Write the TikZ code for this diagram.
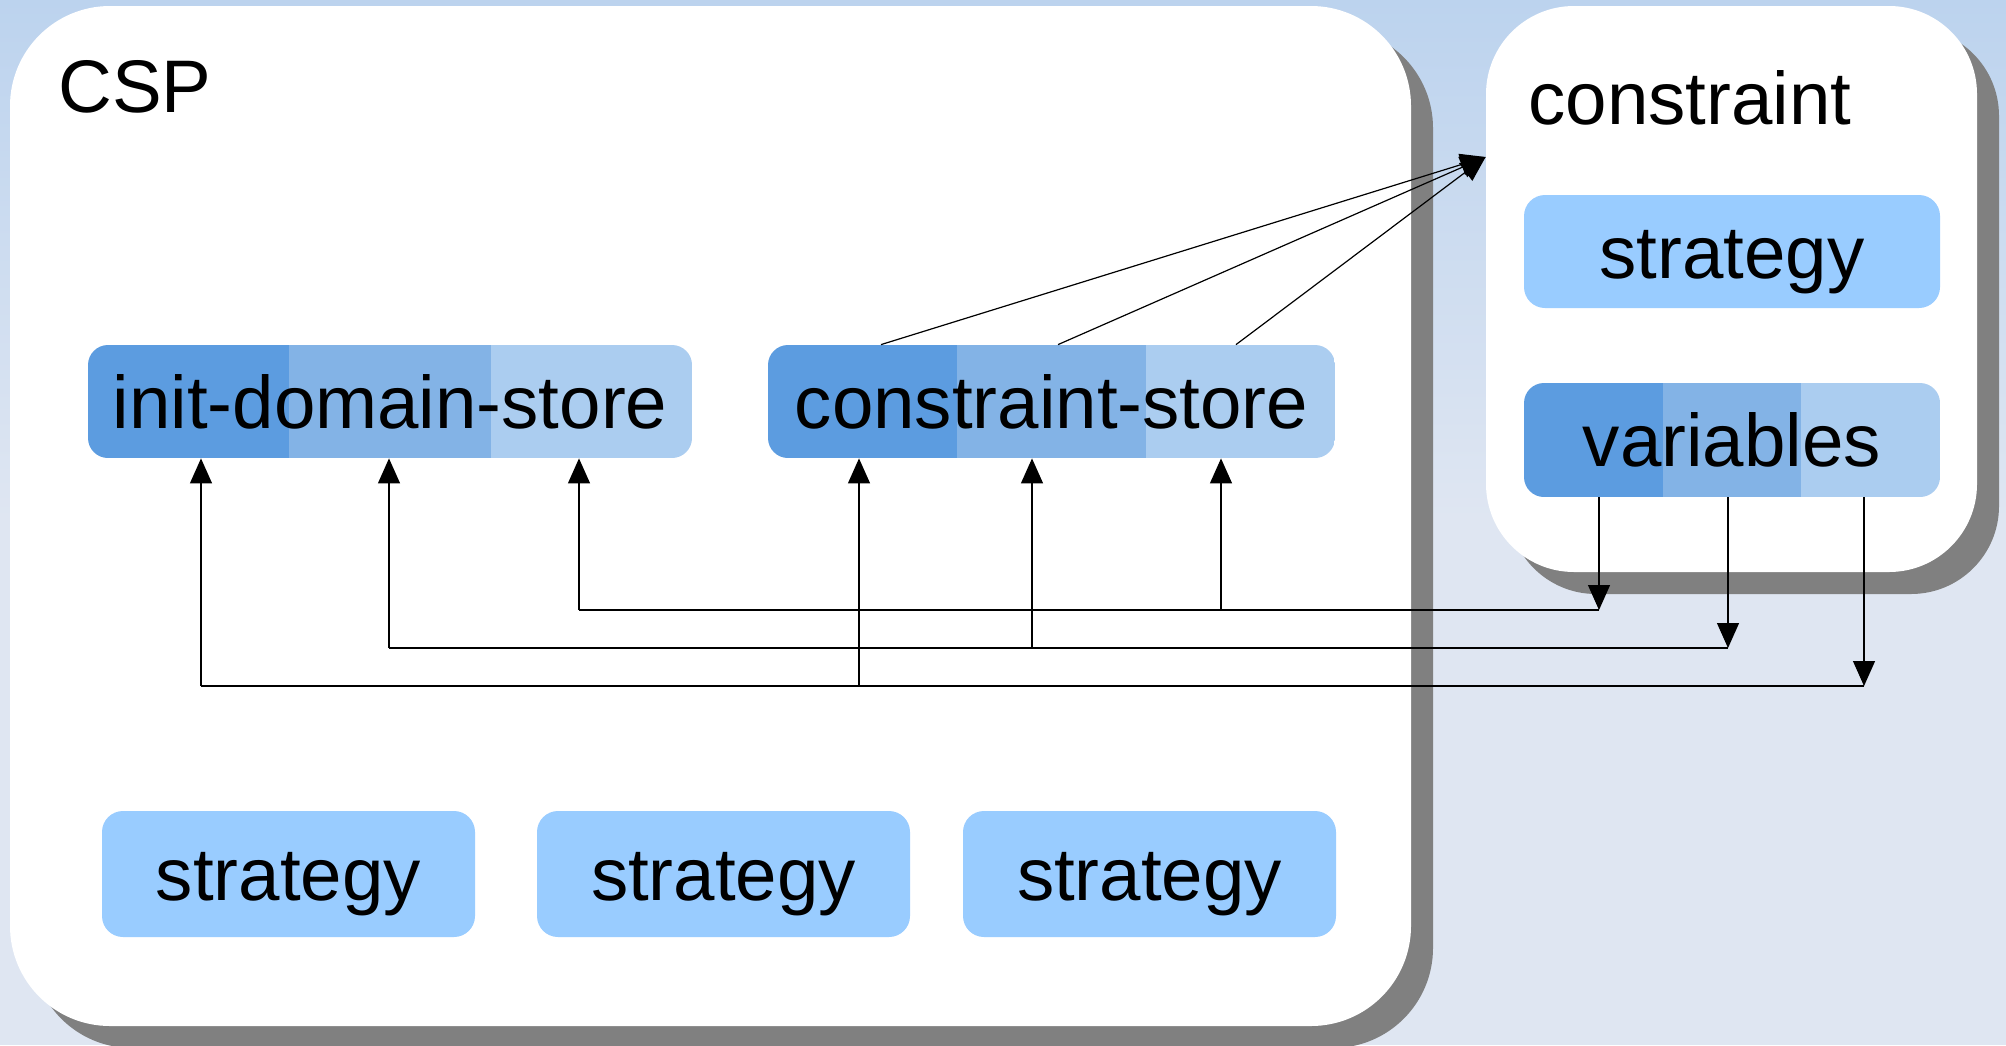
\documentclass[tikz,border=0pt]{standalone}
\usepackage{fontspec}
\setmainfont{Liberation Sans}
\usetikzlibrary{arrows.meta,calc}
\definecolor{bgtop}{HTML}{BCD3EE}
\definecolor{bgbottom}{HTML}{DFE6F2}
\definecolor{shadowgray}{HTML}{808080}
\definecolor{segdark}{HTML}{5C9CE0}
\definecolor{segmid}{HTML}{83B3E6}
\definecolor{seglight}{HTML}{ABCDF0}
\definecolor{stratblue}{HTML}{99CCFF}
\tikzset{
  lbl/.style={font=\fontsize{37.25pt}{44pt}\selectfont, inner sep=0pt,
    text height=26.7pt, text depth=0pt},
  container/.style={fill=white, rounded corners=#1, inner sep=0pt},
  stratbox/.style={lbl, fill=stratblue, rounded corners=10.5pt},
  segbox/.style={lbl, rounded corners=10pt, path picture={
      \coordinate (pl) at (path picture bounding box.south west);
      \coordinate (pr) at (path picture bounding box.north east);
      \coordinate (p1) at ($(pl)!1/3!(pl -| pr)$);
      \coordinate (p2) at ($(pl)!2/3!(pl -| pr)$);
      \fill[segdark, sharp corners] (pl) rectangle (p1 |- pr);
      \fill[segmid, sharp corners] (p1) rectangle (p2 |- pr);
      \fill[seglight, sharp corners] (p2) rectangle (pr);
    }},
  wire/.style={line width=0.6pt, black},
  arr/.style={wire, -{Triangle[length=12.5pt,width=11pt]}},
}
\begin{document}
\begin{tikzpicture}[x=0.5pt,y=-0.5pt]
\useasboundingbox (0,0) rectangle (2006,1045);
\clip (0,0) rectangle (2006,1045);

% background
\fill[bgbottom] (0,0) rectangle (2006,1045);
\shade[top color=bgtop, bottom color=bgbottom] (0,0) rectangle (2006,520);

% drop shadows of the two containers
\fill[shadowgray, rounded corners=50pt] (32,28) rectangle (1433,1048);
\fill[shadowgray, rounded corners=44pt] (1508,28) rectangle (1999,594);

% containers
\node[container=50pt, minimum width=700.5pt, minimum height=510pt] (csp) at (710.5,516) {};
\node[container=44pt, minimum width=245.5pt, minimum height=283pt] (con) at (1731.5,289) {};

% titles
\node[lbl, anchor=base west] (csptitle) at (58,112) {CSP};
\node[lbl, anchor=base west] (contitle) at (1528,124) {constraint};

% stores and strategies
\node[segbox, minimum width=302pt, minimum height=56.5pt] (ids) at (390,401.5) {init-domain-store};
\node[segbox, minimum width=283.5pt, minimum height=56.5pt] (cs) at (1051.5,401.5) {constraint-store};
\node[segbox, minimum width=208pt, minimum height=57pt] (var) at (1732,440) {variables};
\node[stratbox, minimum width=208pt, minimum height=56.5pt] (cstrat) at (1732,251.5) {strategy};
\node[stratbox, minimum width=186.5pt, minimum height=63pt] (s1) at (288.5,874) {strategy};
\node[stratbox, minimum width=186.5pt, minimum height=63pt] (s2) at (723.5,874) {strategy};
\node[stratbox, minimum width=186.5pt, minimum height=63pt] (s3) at (1149.5,874) {strategy};

% constraint-store refers to the constraint
\coordinate (tipy) at (0,157);
\coordinate (ctip) at (con.west |- tipy);
\coordinate (d1x) at (881,0);
\coordinate (d2x) at (1058,0);
\coordinate (d3x) at (1236,0);
\foreach \d in {d1x,d2x,d3x}
  \draw[arr] (cs.north -| \d) -- (ctip);

% buses from the variables to both stores
\coordinate (busA-ids) at (579,610);
\coordinate (busA-cs)  at (1221,610);
\coordinate (busA-var) at (1599,610);
\coordinate (busB-ids) at (389,648);
\coordinate (busB-cs)  at (1032,648);
\coordinate (busB-var) at (1728,648);
\coordinate (busC-ids) at (201,686);
\coordinate (busC-cs)  at (859,686);
\coordinate (busC-var) at (1864,686);
\foreach \b in {A,B,C} {
  \draw[arr] (var.south -| bus\b-var) -- (bus\b-var);
  \draw[wire] (bus\b-var) -- (bus\b-ids);
  \draw[arr] (bus\b-ids) -- (ids.south -| bus\b-ids);
  \draw[arr] (bus\b-cs) -- (cs.south -| bus\b-cs);
}
\end{tikzpicture}
\end{document}
